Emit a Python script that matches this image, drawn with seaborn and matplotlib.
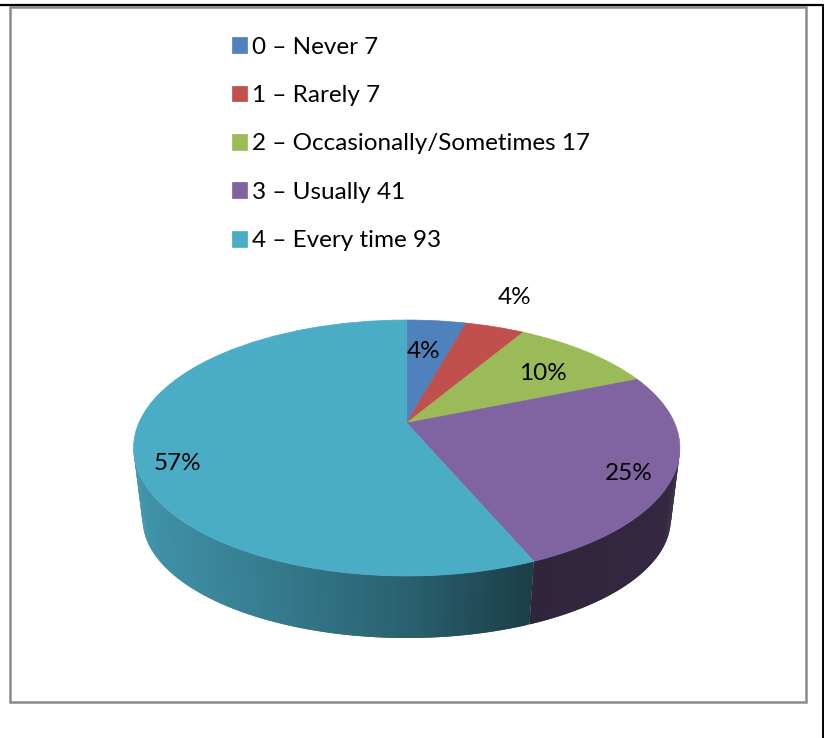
import numpy as np
import matplotlib
matplotlib.use('Agg')
import matplotlib.pyplot as plt
import matplotlib.transforms as mtransforms
from matplotlib.patches import Rectangle
import seaborn as sns

# ---- data ----
categories = ['0 – Never', '1 – Rarely', '2 – Occasionally/Sometimes', '3 – Usually', '4 – Every time']
counts = [7, 7, 17, 41, 93]
pct_labels = ['4%', '4%', '10%', '25%', '57%']
pie_colors = ['#4F81BD', '#C0504D', '#9BBB59', '#8064A2', '#4BACC6']

# ---- layout, all in pixels of the 825x738 picture ----
CX = 406.7
APEX_Y = 423.0
TILT = 0.1953  # perspective strength
HALF_W = 267.9
DEPTH_A = 123.1
FONT = 17.5
pct_pos = [(424, 352), (515, 298), (543, 374), (629, 474), (177, 464)]

sns.set_theme(style='white')
plt.rcParams['font.family'] = ['Lato', 'DejaVu Sans']


def project(u, v):
    # unit disc -> top face of the tilted pie
    w = 1 + TILT * v
    return CX + HALF_W * u / w, APEX_Y - DEPTH_A * v / w


def project_base(u, v):
    # same disc for the lower rim, a bit smaller because it is further away
    x, y = project(u, v)
    return CX + 0.967 * (x - CX), 519 + 0.93 * (y - 448)


class PerspectiveTransform(mtransforms.Transform):
    input_dims = 2
    output_dims = 2
    is_separable = False

    def transform_non_affine(self, values):
        values = np.asarray(values, dtype=float)
        x, y = project(values[:, 0], values[:, 1])
        return np.column_stack([x, y])


def wall_shade(x):
    return np.interp(x, [135, 250, 410, 530, 680], [0.86, 0.74, 0.56, 0.37, 0.40])


fig = plt.figure(figsize=(8.25, 7.38), dpi=100)
ax = fig.add_axes([0, 0, 1, 1])

wedges, _ = ax.pie(counts, colors=pie_colors, startangle=90, counterclock=False,
                   radius=1, wedgeprops={'linewidth': 0.5, 'zorder': 3})
persp = PerspectiveTransform()
for w in wedges:
    w.set_transform(persp + ax.transData)
    w.set_edgecolor(w.get_facecolor())

# side wall, only the part facing the viewer
vis_start = np.degrees(np.arccos(-TILT))
vis_end = 360 - vis_start
edges = np.concatenate([[0], np.cumsum(counts)]) / np.sum(counts) * 360
for i, color in enumerate(pie_colors):
    a0, a1 = max(edges[i], vis_start), min(edges[i + 1], vis_end)
    if a1 <= a0:
        continue
    rgb = np.array(matplotlib.colors.to_rgb(color))
    steps = np.radians(np.linspace(a0, a1, int((a1 - a0) * 1.5) + 2))
    # every strip reaches over the next one, the next paints over it, so no seams
    for k in range(len(steps) - 1):
        t0 = steps[k]
        t1 = steps[min(k + 2, len(steps) - 1)]
        xt, yt = project(np.sin([t0, t1]), np.cos([t0, t1]))
        xb, yb = project_base(np.sin([t1, t0]), np.cos([t1, t0]))
        shade = wall_shade(xt[0])
        ax.fill(np.r_[xt, xb], np.r_[yt, yb], color=rgb * shade, lw=0, zorder=2)

for (px, py), txt in zip(pct_pos, pct_labels):
    ax.text(px, py, txt, fontsize=FONT, color='black', ha='center', va='center', zorder=5)

legend_labels = [f'{c} {n}' for c, n in zip(categories, counts)]
ax.legend(wedges, legend_labels, loc='upper left', bbox_to_anchor=(232, 36.5),
          bbox_transform=ax.transData, frameon=False, fontsize=FONT,
          handlelength=0.62, handleheight=0.62, handletextpad=0.22,
          labelspacing=1.13, borderpad=0, borderaxespad=0, labelcolor='black')

# chart frame and the page lines around it
ax.add_patch(Rectangle((9.5, 6.5), 796, 695.5, fill=False, ec='#8A8A8A', lw=1.8, zorder=1))
ax.plot([0, 823], [5.3, 5.3], color='black', lw=1.6, zorder=1)
ax.plot([822.8, 822.8], [5, 738], color='black', lw=1.4, zorder=1)

ax.set_aspect('auto')
ax.set_xlim(0, 825)
ax.set_ylim(738, 0)
ax.axis('off')

fig.savefig('out.png', dpi=100)
